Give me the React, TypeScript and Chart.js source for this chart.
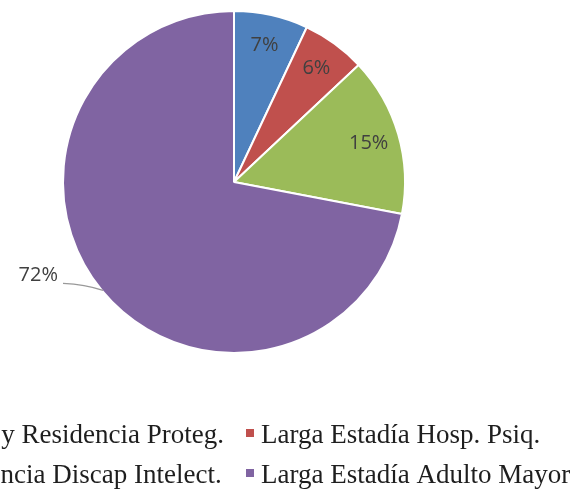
import React, { useEffect, useRef } from "react";
import { Chart, registerables } from "chart.js";

Chart.register(...registerables);

const categories = [
  "Hogar y Residencia Proteg.",
  "Larga Estadía Hosp. Psiq.",
  "Residencia Discap Intelect.",
  "Larga Estadía Adulto Mayor",
];
const percentages = [7, 6, 15, 72];
const colors = ["#4F81BD", "#C0504D", "#9BBB59", "#8064A2"];
const outsideLabelIndex = 3;

const W = 573;
const H = 491;
const LABEL_FONT = '20px "Open Sans", sans-serif';
const LEGEND_FONT = '27px "Liberation Serif", "Times New Roman", serif';

const legendColTextX = [-73, 261];
const legendRowBaseline = [443, 483];

const labelPlugin = {
  id: "pctLabels",
  afterDraw(chart: any) {
    const ctx = chart.ctx as CanvasRenderingContext2D;
    const meta = chart.getDatasetMeta(0);
    const ds = chart.data.datasets[0];
    ctx.save();
    ctx.font = LABEL_FONT;
    ctx.fillStyle = "#404040";
    meta.data.forEach((arc: any, i: number) => {
      const p = arc.getProps(["x", "y", "startAngle", "endAngle", "outerRadius"], true);
      const mid = (p.startAngle + p.endAngle) / 2;
      const text = ds.data[i] + "%";
      if (i === outsideLabelIndex) {
        const ex = p.x + Math.cos(mid) * (p.outerRadius - 1);
        const ey = p.y + Math.sin(mid) * (p.outerRadius - 1);
        const lx = ex - 40;
        const ly = ey - 7;
        ctx.strokeStyle = "#999999";
        ctx.lineWidth = 1.2;
        ctx.beginPath();
        ctx.moveTo(ex, ey);
        ctx.quadraticCurveTo(ex - 18, ey - 6, lx, ly);
        ctx.stroke();
        ctx.textAlign = "right";
        ctx.textBaseline = "middle";
        ctx.fillText(text, lx - 5, ly - 8);
      } else {
        const r = p.outerRadius * 0.82;
        ctx.textAlign = "center";
        ctx.textBaseline = "middle";
        ctx.fillText(text, p.x + Math.cos(mid) * r, p.y + Math.sin(mid) * r);
      }
    });
    ctx.restore();
  },
};

function drawLegend(canvas: HTMLCanvasElement) {
  const ctx = canvas.getContext("2d");
  if (!ctx) return;
  ctx.clearRect(0, 0, canvas.width, canvas.height);
  ctx.font = LEGEND_FONT;
  ctx.textAlign = "left";
  ctx.textBaseline = "alphabetic";
  categories.forEach((label, i) => {
    const col = i % 2;
    const row = Math.floor(i / 2);
    const tx = legendColTextX[col];
    const by = legendRowBaseline[row];
    ctx.fillStyle = colors[i];
    ctx.fillRect(tx - 15, by - 14, 8, 8);
    ctx.fillStyle = "#1E1E1E";
    ctx.fillText(label, tx, by);
  });
}

export default function App() {
  const ref = useRef<HTMLCanvasElement | null>(null);
  const legendRef = useRef<HTMLCanvasElement | null>(null);
  useEffect(() => {
    if (!ref.current) return;
    const chart = new Chart(ref.current, {
      type: "pie",
      data: {
        labels: categories,
        datasets: [
          {
            data: percentages,
            backgroundColor: colors,
            borderColor: "#FFFFFF",
            borderWidth: 2,
          },
        ],
      },
      options: {
        responsive: false,
        animation: false,
        devicePixelRatio: 1,
        layout: { padding: { left: 62, top: 10, right: 167, bottom: 137 } },
        plugins: {
          legend: { display: false },
          tooltip: { enabled: false },
        },
      },
      plugins: [labelPlugin],
    });
    if (legendRef.current) drawLegend(legendRef.current);
    return () => chart.destroy();
  }, []);
  return (
    <div
      style={{
        position: "absolute",
        left: 0,
        top: 0,
        width: W,
        height: H,
        overflow: "hidden",
        background: "#fff",
      }}
    >
      <canvas
        ref={ref}
        width={W}
        height={H}
        style={{ position: "absolute", left: 0, top: 0, width: W, height: H, display: "block" }}
      />
      <canvas
        ref={legendRef}
        width={W}
        height={H}
        style={{ position: "absolute", left: 0, top: 0, width: W, height: H, display: "block", pointerEvents: "none" }}
      />
    </div>
  );
}
